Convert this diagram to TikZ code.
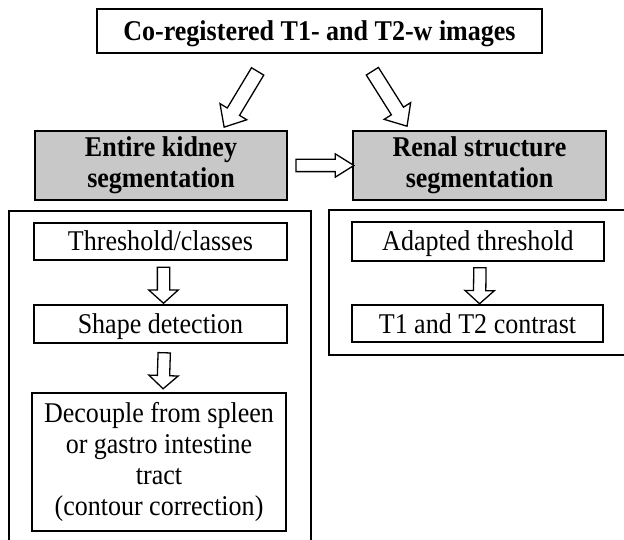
\documentclass[tikz,border=0pt]{standalone}
\usepackage{fontspec}
\setmainfont{Liberation Serif}
\newfontfamily\stepfont[FakeStretch=0.91]{Liberation Serif}
\usetikzlibrary{shapes.arrows}
\definecolor{stagegray}{RGB}{200,200,200}
\tikzset{
  box/.style={draw, line width=1.6pt, inner sep=0pt, align=center,
    font=\stepfont\fontsize{28.6}{30.7}\selectfont},
  oneline/.style={text height=19pt, text depth=0pt},
  stage/.style={box, fill=stagegray, font=\stepfont\fontsize{28.6}{31}\selectfont\bfseries,
    execute at begin node={\rule{0pt}{26pt}}},
  panel/.style={draw, line width=1.6pt, inner sep=0pt},
  hollow/.style={single arrow, draw, line width=1.3pt, fill=white,
    inner xsep=0pt, sloped, allow upside down},
  downarrow/.style={hollow, inner ysep=5.5pt, single arrow head extend=8.5pt,
    single arrow tip angle=96, minimum height=36pt},
  sidearrow/.style={hollow, inner ysep=5.5pt, single arrow head extend=5.5pt,
    single arrow tip angle=64, minimum height=58pt},
  slantarrow/.style={hollow, inner ysep=6.5pt, single arrow head extend=8.5pt,
    single arrow tip angle=82, minimum height=65pt}
}
\begin{document}
\begin{tikzpicture}[x=1pt,y=-1pt]
\useasboundingbox (0,0) rectangle (624,540);
\clip (0,0) rectangle (624,540);
% frames round the two branches
\node[panel, minimum width=302pt, minimum height=349pt] (leftpanel) at (160,385.5) {};
\node[panel, minimum width=321pt, minimum height=145pt] (rightpanel) at (489.5,282.5) {};
% input and the two stages
\node[box, oneline, font=\stepfont\fontsize{28.6}{31}\selectfont\bfseries,
  minimum width=445pt, minimum height=44pt]
  (input) at (319.5,31) {Co-registered T1- and T2-w images};
\node[stage, minimum width=252pt, minimum height=69pt] (kidney) at (161,165.5)
  {Entire kidney\\segmentation};
\node[stage, minimum width=253pt, minimum height=69pt] (renal) at (479.5,165.5)
  {Renal structure\\segmentation};
% steps, left branch
\node[box, oneline, minimum width=253pt, minimum height=37pt] (thresh) at (160.5,241.5) {Threshold/classes};
\node[box, oneline, minimum width=253pt, minimum height=38pt] (shape) at (160.5,324) {Shape detection};
\node[box, minimum width=254pt, minimum height=138pt] (decouple) at (159,462)
  {Decouple from spleen\\or gastro intestine\\tract\\(contour correction)};
% steps, right branch
\node[box, oneline, minimum width=252pt, minimum height=39pt] (adapted) at (478,241.5) {Adapted threshold};
\node[box, oneline, minimum width=251pt, minimum height=37pt] (contrast) at (477.5,323.5) {T1 and T2 contrast};
% block arrows
\coordinate (lefttail) at (260,67.5);
\coordinate (lefttip) at (226,124);
\coordinate (righttail) at (370,67.5);
\coordinate (righttip) at (405,123);
\path (lefttail) -- (lefttip) node[midway, slantarrow] (toKidney) {};
\path (righttail) -- (righttip) node[midway, slantarrow] (toRenal) {};
\path (kidney.east) -- (renal.west) node[midway, sidearrow] (kidneyToRenal) {};
\path ([xshift=3pt]thresh.south) -- ([xshift=3pt]shape.north) node[midway, downarrow] (threshToShape) {};
\path ([xshift=4pt]shape.south) -- ([xshift=4pt]decouple.north) node[midway, downarrow] (shapeToDecouple) {};
\path ([xshift=2pt]adapted.south) -- ([xshift=2pt]contrast.north) node[midway, downarrow] (adaptedToContrast) {};
\end{tikzpicture}
\end{document}
